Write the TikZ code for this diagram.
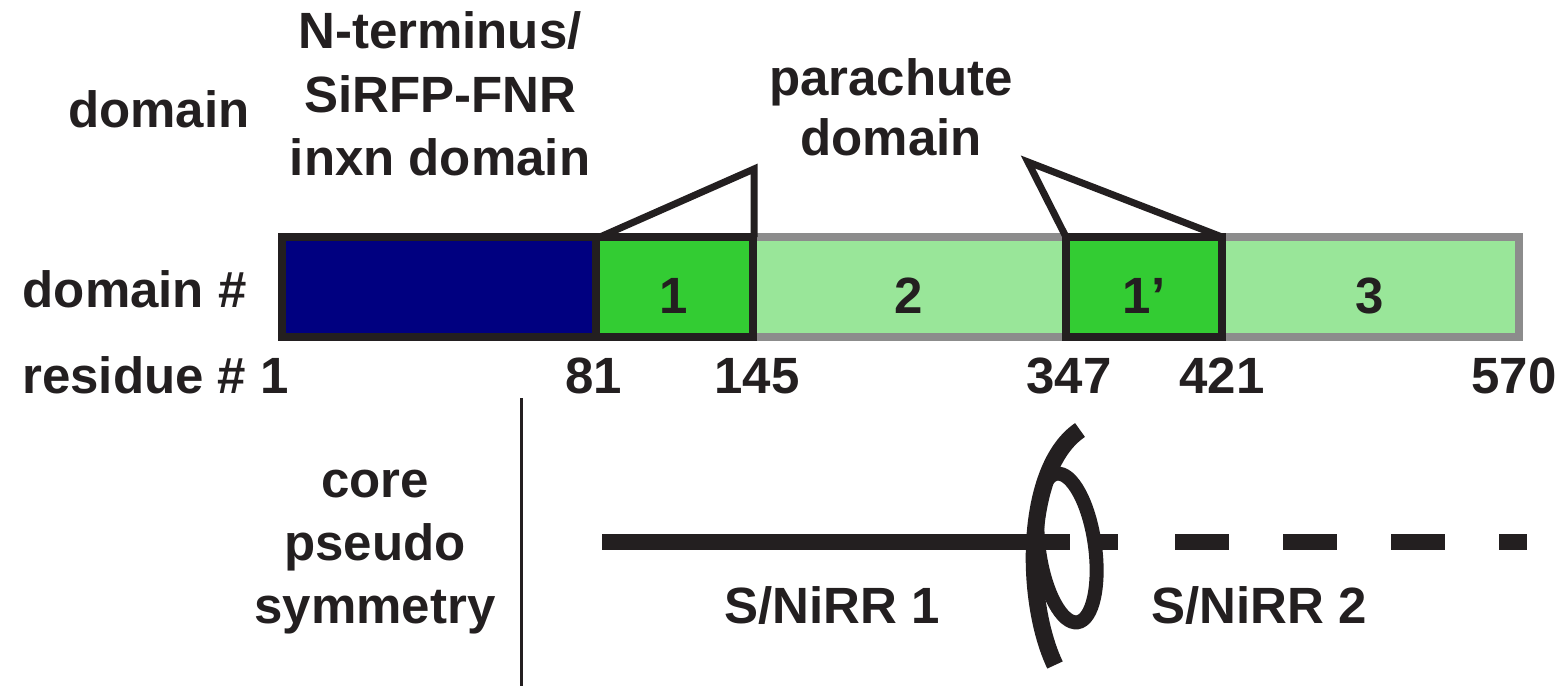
\documentclass[tikz,border=0pt]{standalone}
\usepackage{fontspec}
\setmainfont{Liberation Sans}
\definecolor{navyb}{RGB}{0,0,128}
\definecolor{grn}{RGB}{51,204,51}
\definecolor{lgrn}{RGB}{153,230,153}
\definecolor{brd}{RGB}{140,140,140}
\definecolor{ink}{RGB}{35,31,32}
\begin{document}
\begin{tikzpicture}[x=0.5pt,y=-0.5pt,
  lbl/.style={font=\fontsize{25.5}{31.5}\selectfont\bfseries, inner sep=0pt, text=ink, anchor=base},
  lblr/.style={lbl, anchor=base east},
  lbll/.style={lbl, anchor=base west},
  boxline/.style={ink, line width=4pt},
  triline/.style={ink, line width=3.5pt, line join=miter},
  thick line/.style={ink, line width=8pt}]
\useasboundingbox (0,0) rectangle (1558,686);
% bar
\fill[lgrn] (282,237) rectangle (1519,337);
\draw[brd, line width=4pt] (282,237) rectangle (1519,337);
\draw[boxline, fill=navyb] (282,237) rectangle (596,337);
\draw[boxline, fill=grn] (596,237) rectangle (753,337);
\draw[boxline, fill=grn] (1066,237) rectangle (1222,337);
% triangles
\coordinate (t1a) at (600,237);
\coordinate (t1tip) at (754,169);
\coordinate (t1b) at (754,237);
\draw[triline] (t1a) -- (t1tip) -- (t1b);
\coordinate (t2a) at (1066,237);
\coordinate (t2tip) at (1028,162);
\coordinate (t2b) at (1222,237);
\draw[triline] (t2a) -- (t2tip) -- (t2b);
% labels top
\node[lblr] (dom) at (250,127) {domain};
\node[lbl] (nt1) at (440,48) {N-terminus/};
\node[lbl] (nt2) at (440,112) {SiRFP-FNR};
\node[lbl] (nt3) at (440,175) {inxn domain};
\node[lbl] (pc1) at (891,95) {parachute};
\node[lbl] (pc2) at (891,155) {domain};
\node[lblr] (domn) at (247,307) {domain \#};
% numbers in bar
\node[lbl] (d1) at (674,313) {1};
\node[lbl] (d2) at (909,313) {2};
\node[lbl] (d1p) at (1144,313) {1’};
\node[lbl] (d3) at (1370,313) {3};
% residues
\node[lbll] (res) at (22,393) {residue \# 1};
\node[lbl] (r81) at (594,393) {81};
\node[lbl] (r145) at (757,393) {145};
\node[lbl] (r347) at (1069,393) {347};
\node[lbl] (r421) at (1222,393) {421};
\node[lbl] (r570) at (1514,393) {570};
% lower part
\draw[ink, line width=1.5pt] (521,398) -- (521,686);
\node[lbl] (c1) at (375,497) {core};
\node[lbl] (c2) at (375,560) {pseudo};
\node[lbl] (c3) at (375,623) {symmetry};
\node[lbl] (s1) at (832,623) {S/NiRR 1};
\node[lbl] (s2) at (1259,623) {S/NiRR 2};
\draw[thick line] (602,542) -- (1070,542);
\draw[thick line] (1090,542) -- (1118,542);
\draw[thick line, dash pattern=on 27pt off 27pt] (1175,542) -- (1527,542);
\draw[ink, line width=7pt, rotate around={8:(1067,548)}] (1067,548) ellipse [x radius=28, y radius=75];
\draw[ink, line width=8.5pt] (1080,430) .. controls (1024,468) and (1024,600) .. (1055,665);
\end{tikzpicture}
\end{document}
